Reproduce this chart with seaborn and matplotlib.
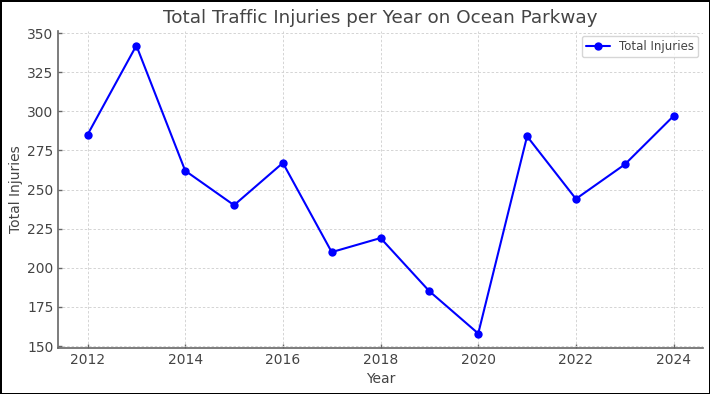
import matplotlib
matplotlib.use("Agg")
import matplotlib.pyplot as plt
import pandas as pd
import seaborn as sns

years = [2012, 2013, 2014, 2015, 2016, 2017, 2018, 2019, 2020, 2021, 2022, 2023, 2024]
injuries = [285, 342, 262, 240, 267, 210, 219, 185, 158, 284, 244, 266, 297]

df = pd.DataFrame({"Year": years, "Total Injuries": injuries})

sns.set_style("ticks")
plt.rcParams["font.family"] = ["DejaVu Sans"]

text_gray = "#444444"
fig = plt.figure(figsize=(7.1, 3.94), dpi=100)
ax = fig.add_axes([0.082, 0.117, 0.908, 0.804])

sns.lineplot(data=df, x="Year", y="Total Injuries", marker="o", color="blue",
             markersize=6, markeredgewidth=0, linewidth=1.5,
             label="Total Injuries", ax=ax)

ax.set_title("Total Traffic Injuries per Year on Ocean Parkway", fontsize=13.2, color=text_gray)
ax.set_xlabel("Year", fontsize=10, color=text_gray)
ax.set_ylabel("Total Injuries", fontsize=10, color=text_gray, labelpad=3)
ax.set_xticks(range(2012, 2025, 2))
# short inward ticks like the reference
ax.tick_params(axis="both", labelsize=10, labelcolor=text_gray, color="#666666",
               length=3, width=1, direction="in", pad=3.5)

for side in ["top", "right"]:
    ax.spines[side].set_visible(False)
for side in ["left", "bottom"]:
    ax.spines[side].set_color("#666666")
    ax.spines[side].set_linewidth(1.2)

ax.grid(True, linestyle=(0, (2.5, 2)), color="#d4d4d4", linewidth=0.7)
leg = ax.legend(loc="upper right", fontsize=8.5, frameon=True,
                borderaxespad=0.4, borderpad=0.35)
for t in leg.get_texts():
    t.set_color(text_gray)

fig.patch.set_edgecolor("black")
fig.patch.set_linewidth(2)

fig.savefig("out.png", dpi=100, edgecolor=fig.get_edgecolor())
